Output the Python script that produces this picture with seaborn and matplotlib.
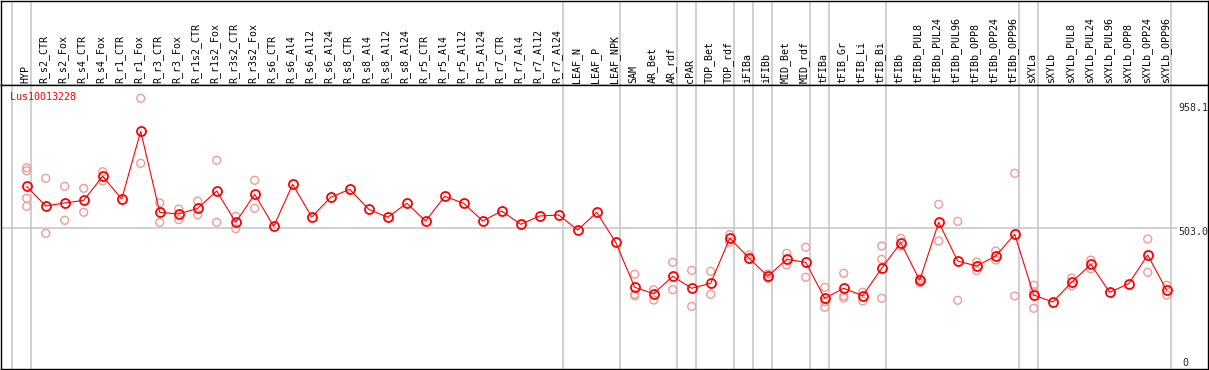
import numpy as np
import pandas as pd
import matplotlib
matplotlib.use('Agg')
import matplotlib.pyplot as plt
import seaborn as sns

# ── data ────────────────────────────────────────
gene = 'Lus10013228'

samples = ['HYP', 'R_s2_CTR', 'R_s2_Fox', 'R_s4_CTR', 'R_s4_Fox', 'R_r1_CTR', 'R_r1_Fox',
           'R_r3_CTR', 'R_r3_Fox', 'R_r1s2_CTR', 'R_r1s2_Fox', 'R_r3s2_CTR', 'R_r3s2_Fox',
           'R_s6_CTR', 'R_s6_Al4', 'R_s6_Al12', 'R_s6_Al24', 'R_s8_CTR', 'R_s8_Al4',
           'R_s8_Al12', 'R_s8_Al24', 'R_r5_CTR', 'R_r5_Al4', 'R_r5_Al12', 'R_r5_Al24',
           'R_r7_CTR', 'R_r7_Al4', 'R_r7_Al12', 'R_r7_Al24', 'LEAF_N', 'LEAF_P', 'LEAF_NPK',
           'SAM', 'AR_Bet', 'AR_rdf', 'cPAR', 'TOP_Bet', 'TOP_rdf', 'iFIBa', 'iFIBb',
           'MID_Bet', 'MID_rdf', 'tFIBa', 'tFIB_Gr', 'tFIB_Li', 'tFIB_Bi', 'tFIBb',
           'tFIBb_PUL8', 'tFIBb_PUL24', 'tFIBb_PUL96', 'tFIBb_OPP8', 'tFIBb_OPP24',
           'tFIBb_OPP96', 'sXYLa', 'sXYLb', 'sXYLb_PUL8', 'sXYLb_PUL24', 'sXYLb_PUL96',
           'sXYLb_OPP8', 'sXYLb_OPP24', 'sXYLb_OPP96']

means = [650.0, 581.1, 591.6, 601.0, 685.0, 605.6, 842.6,
         559.0, 553.1, 573.0, 633.6, 524.0, 622.0,
         510.0, 657.0, 542.6, 611.5, 639.5, 569.5,
         541.5, 590.5, 528.6, 615.0, 590.5, 528.6,
         563.6, 517.0, 546.1, 549.6, 497.0, 559.0, 454.0,
         296.5, 274.0, 335.0, 293.0, 310.5, 468.0, 400.1, 335.0,
         394.5, 384.0, 258.0, 293.0, 267.0, 363.0, 452.6,
         321.0, 524.0, 388.5, 371.0, 406.0,
         482.0, 269.5, 245.0, 314.0, 377.0, 279.0,
         309.1, 409.5, 286.0]

replicates = [[715.1, 704.6, 608.0, 580.0], [678.0, 485.5], [650.0, 531.0], [643.0, 559.0],
              [701.1, 668.6], [], [958.1, 730.6],
              [591.6, 524.0], [570.6, 533.1], [598.6, 550.6], [741.1, 524.0],
              [545.0, 501.6], [671.0, 573.0],
              [], [], [], [], [], [],
              [], [], [], [], [], [],
              [], [], [], [], [], [], [],
              [342.0, 271.9, 267.0], [288.0, 252.0], [384.0, 288.0], [356.0, 229.9],
              [352.5, 271.9], [480.6, 455.0], [409.5, 394.5], [343.0, 328.0],
              [415.5, 374.5], [436.5, 331.5], [296.5, 246.0, 226.4], [345.5, 266.0, 259.0],
              [279.0, 248.5], [441.0, 394.5, 258.0], [468.0, 441.0],
              [326.6, 312.6], [587.0, 458.5], [527.5, 251.0], [385.0, 354.6], [423.5, 392.0],
              [695.5, 266.0], [303.5, 281.0, 223.0], [], [329.0, 301.0], [392.0, 361.6], [],
              [], [465.5, 349.0], [303.5, 269.5]]

# separators sit just right of these sample indices
group_ends = [-1, 0, 28, 31, 34, 35, 37, 38, 39, 41, 42, 45, 52, 53, 60]
axis_labels = ['958.1', '503.0', '0']
axis_values = [958.1, 503.0, 0.0]

# ── frames ──────────────────────────────────────
x = np.arange(len(samples))
df_mean = pd.DataFrame({'x': x, 'value': means})
df_rep = pd.DataFrame([(i, v) for i, reps in enumerate(replicates) for v in reps],
                      columns=['x', 'value'])

sns.set_style('white')
plt.rcParams['font.family'] = ['DejaVu Sans Mono', 'DejaVu Sans']

W, H = 1209, 370
fig = plt.figure(figsize=(W / 100, H / 100), dpi=100)
top_px, mid_px, bot_px = 0.5, 84.5, 369.3
left_px, right_px = 1.0, 1207.5
ax_h = fig.add_axes([left_px / W, 1 - mid_px / H, (right_px - left_px) / W, (mid_px - top_px) / H])
ax = fig.add_axes([left_px / W, 1 - bot_px / H, (right_px - left_px) / W, (bot_px - mid_px) / H])

xlim = (-1.353, -1.353 + (right_px - left_px) / 19)
for a in (ax_h, ax):
    a.set_xlim(*xlim)
    a.set_xticks([])
    a.set_yticks([])
    for s in a.spines.values():
        s.set_color('black')
        s.set_linewidth(1.0)
    for g in group_ends:
        a.axvline(g + 0.21, color='#c4c4c4', lw=1.1, zorder=0)
ax.set_ylim(9.4, 1006.4)
ax_h.set_ylim(0, 1)

# sample labels
for i, name in enumerate(samples):
    ax_h.text(i - 0.08, 0.02, name, rotation=90, ha='center', va='bottom',
              fontsize=7.2, color='black')

# 503 reference line
ax.axhline(503.0, xmax=0.975, color='#c4c4c4', lw=1.1, zorder=0)

# replicate points
sns.scatterplot(data=df_rep, x='x', y='value', ax=ax, marker='o', s=32,
                facecolor='none', edgecolor='#f09a9a', linewidth=1.0, zorder=2, legend=False)

# mean line
sns.lineplot(data=df_mean, x='x', y='value', ax=ax, color='red', lw=0.8,
             marker='o', markersize=6.5, markerfacecolor='none', markeredgecolor='red',
             markeredgewidth=1.3, zorder=3, legend=False)
ax.set_xlabel('')
ax.set_ylabel('')

# gene name
ax.text(0.0075, 1 - 12.8 / (bot_px - mid_px), gene, transform=ax.transAxes,
        ha='left', va='center', color='red', fontsize=7.2)

# scale labels in right column
lab_x = 60.6
ax.annotate(axis_labels[0], (lab_x, axis_values[0]), xytext=(0, -5), textcoords='offset pixels',
            ha='left', va='top', fontsize=7.2)
ax.annotate(axis_labels[1], (lab_x, axis_values[1]), xytext=(0, 1), textcoords='offset pixels',
            ha='left', va='top', fontsize=7.2)
ax.annotate(axis_labels[2], (lab_x + 0.2, ax.get_ylim()[0]), xytext=(0, 1), textcoords='offset pixels',
            ha='left', va='bottom', fontsize=7.2)

fig.savefig('out.png', dpi=100)
